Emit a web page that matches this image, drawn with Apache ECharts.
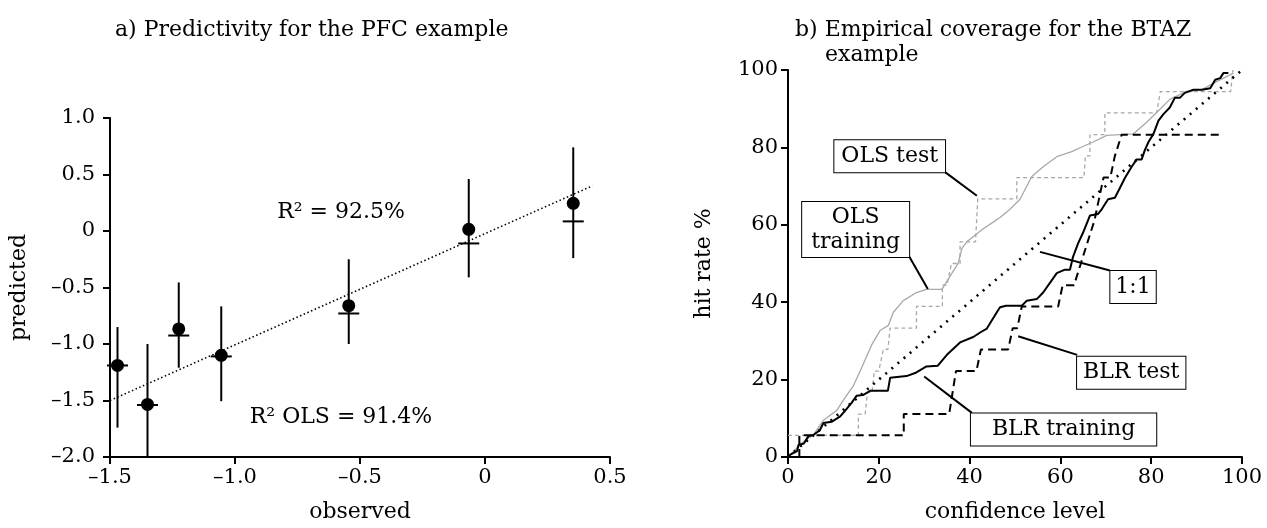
<!DOCTYPE html>
<html><head><meta charset="utf-8">
<script src="https://cdn.jsdelivr.net/npm/echarts@6/dist/echarts.min.js"></script>
<style>html,body{margin:0;padding:0;background:#fff}#c{width:1267px;height:528px}</style>
</head><body><div id="c"></div>
<script>
// ---- Panel a) data ----
const observed  = [-1.47, -1.35, -1.225, -1.055, -0.545, -0.065, 0.353];
const predicted = [-1.19, -1.535, -0.867, -1.10, -0.661, 0.015, 0.245];
const lowerBar  = [-1.74, -2.0, -1.21, -1.506, -1.0, -0.41, -0.24];
const upperBar  = [-0.85, -1.0, -0.455, -0.667, -0.25, 0.46, 0.74];
const olsPred   = [-1.19, -1.54, -0.925, -1.11, -0.73, -0.11, 0.085];
const fitLine   = [[-1.5, -1.5], [0.43, 0.40]];
const ticksA_x  = ['–1.5', '–1.0', '–0.5', '0', '0.5'];
const ticksA_y  = ['–2.0', '–1.5', '–1.0', '–0.5', '0', '0.5', '1.0'];
const notesA    = [{pos: [-0.576, 0.17], text: 'R\u00B2 = 92.5%'}, {pos: [-0.576, -1.645], text: 'R\u00B2 OLS = 91.4%'}];

// ---- Panel b) data (confidence level %, hit rate %) ----
const blrTraining = [[0,0],[0.5,0.6],[2,1.5],[2.3,3.1],[3.5,3.5],[4.5,5.4],[5.6,5.7],[7,6.9],[7.8,8.8],[9.6,9.1],[11.5,10.5],[12.6,12],[14,14],[15.1,15.8],[16.5,16],[18.1,17.1],[22,17.1],[22.5,20.5],[26.1,20.9],[28,21.7],[30.5,23.4],[33,23.6],[35,26.4],[37.9,29.6],[40.8,31],[42.5,32.3],[43.8,33.2],[46,37.4],[46.7,38.7],[48,39.1],[51.5,39.1],[52.6,40.4],[54.8,40.8],[56.2,42.5],[57.7,45],[59.2,47.5],[61,48.4],[62.1,48.4],[62.8,51.8],[63.9,55.2],[65,58],[66.5,62.4],[68.3,62.8],[69.1,64],[70.5,66.6],[72,67],[73.1,69.5],[74.2,72.1],[75.7,75],[76.8,76.9],[77.9,76.9],[78.6,79.3],[79.4,81.4],[80.5,83.5],[81.6,86.9],[82.7,88.6],[84.1,90.3],[85.2,92.8],[86.3,92.8],[87.4,94.1],[89.3,94.9],[91.2,94.9],[93,95.3],[94.1,97.5],[95.2,97.9],[95.9,99.2],[97,99.2]];
const blrTest = [[2.5,0],[2.5,5.6],[25.5,5.6],[25.5,11.1],[35.5,11.1],[37,22.2],[41.5,22.2],[42.5,27.8],[48.5,27.8],[49.5,33.3],[50.5,33.3],[51.5,38.9],[59.5,38.9],[60.5,44.4],[63,44.4],[64.5,50],[66,55.6],[67.5,61.1],[68.5,66.7],[69.5,72.2],[71,72.2],[72,77.8],[73.5,83.3],[95,83.3]];
const olsTraining = [[0,0],[2.6,3.1],[4,4.5],[5.6,5.7],[7.8,9.5],[10.7,12],[12.6,15.4],[14.4,18.4],[16.2,23],[18.4,28.9],[20.3,32.7],[22.1,34],[23.2,37.4],[25.4,40.4],[28.3,42.5],[30.5,43.3],[33.9,43.3],[35,45.4],[37.5,50.1],[38.3,53.9],[39.4,55.6],[41.6,57.7],[43,59],[45.2,60.7],[46.7,61.9],[48.9,64],[51.1,66.6],[53.7,72.5],[56.2,75],[59.2,77.6],[62.5,78.9],[64.7,80.1],[67.2,81.4],[70.2,83.1],[76.1,83.5],[79,86.5],[81.2,89],[84.1,92.4],[87.8,94.5],[91.1,94.9],[94.4,97],[98.1,99.2]];
const olsTest = [[0,5.6],[15.5,5.6],[15.5,11.1],[17,11.1],[17.5,16.7],[18.5,16.7],[19,22.2],[20,22.2],[21,27.8],[22,27.8],[22.5,33.3],[28.3,33.3],[28.3,38.9],[34,38.9],[34,44.4],[35,44.4],[36,50],[37.9,50],[37.9,55.6],[41.3,55.6],[41.8,66.7],[50.4,66.7],[50.4,72.2],[65.2,72.2],[65.5,77.8],[66.5,77.8],[66.5,83.3],[69.8,83.3],[69.8,88.9],[81.2,88.9],[82,94.4],[97.5,94.4],[98,100]];
const oneToOne = [[0,0],[104,104]];
const ticksB = ['0', '20', '40', '60', '80', '100'];
const labelsB = [
  {text: 'OLS test',        box: [22.4, 77.7], leader: [[34.6, 73.6], [41.6, 67.5]]},
  {text: 'OLS\ntraining',   box: [14.9, 58.8], leader: [[26.7, 51.8], [30.8, 43.4]]},
  {text: '1:1',             box: [76.0, 43.9], leader: [[70.9, 48.2], [55.5, 53.0]]},
  {text: 'BLR test',        box: [75.6, 21.8], leader: [[63.7, 26.4], [50.7, 31.2]]},
  {text: 'BLR training',    box: [60.7, 7.1],  leader: [[40.5, 11.4], [30.0, 20.8]]}
];
const boxPads = [[4, 7, 3, 7], [3, 9, 2, 9], [4, 5, 3, 5], [4, 6, 3, 6], [4, 21, 3, 21]];

const FONT = 'DejaVu Serif';
const FS_TICK = 21;
const FS = 22;
const chart = echarts.init(document.getElementById('c'), null, {renderer: 'canvas'});

function axisCommon(labels, min, interval, margin) {
  return {
    axisLine: {show: true, onZero: false, lineStyle: {color: '#000', width: 2}},
    axisTick: {show: true, length: 7, lineStyle: {color: '#000', width: 2}},
    splitLine: {show: false},
    axisLabel: {color: '#000', fontFamily: FONT, fontSize: FS_TICK, margin: margin,
      formatter: v => labels[Math.round((v - min) / interval)]},
    nameTextStyle: {color: '#000', fontFamily: FONT, fontSize: FS},
    nameLocation: 'middle'
  };
}
const titleStyle = {fontFamily: FONT, fontSize: FS, fontWeight: 'normal', color: '#000'};

const option = {
  backgroundColor: '#fff',
  animation: false,
  textStyle: {fontFamily: FONT},
  title: [
    {text: 'a) Predictivity for the PFC example', left: 110, top: 14, textStyle: titleStyle},
    {text: 'b) Empirical coverage for the BTAZ', left: 790, top: 14, textStyle: titleStyle},
    {text: 'example', left: 820, top: 39, textStyle: titleStyle}
  ],
  grid: [
    {left: 110, right: 657, top: 118, bottom: 65.5},
    {left: 788, right: 25, top: 70, bottom: 64}
  ],
  xAxis: [
    Object.assign(axisCommon(ticksA_x, -1.5, 0.5, 10), {gridIndex: 0, type: 'value', min: -1.5, max: 0.5, interval: 0.5, name: 'observed', nameGap: 44}),
    Object.assign(axisCommon(ticksB, 0, 20, 10), {gridIndex: 1, type: 'value', min: 0, max: 100, interval: 20, name: 'confidence level', nameGap: 44})
  ],
  yAxis: [
    Object.assign(axisCommon(ticksA_y, -2, 0.5, 15), {gridIndex: 0, type: 'value', min: -2, max: 1, interval: 0.5, name: 'predicted', nameGap: 80}),
    Object.assign(axisCommon(ticksB, 0, 20, 10), {gridIndex: 1, type: 'value', min: 0, max: 100, interval: 20, name: 'hit rate %', nameGap: 73})
  ],
  series: [
    // panel a
    {type: 'line', xAxisIndex: 0, yAxisIndex: 0, data: fitLine, symbol: 'none',
      lineStyle: {color: '#000', width: 1.6, type: [1.5, 2.5]}, z: 1},
    {type: 'custom', xAxisIndex: 0, yAxisIndex: 0,
      data: observed.map((x, i) => [x, lowerBar[i], upperBar[i], olsPred[i]]),
      renderItem: function (params, api) {
        const x = api.value(0);
        const pLo = api.coord([x, api.value(1)]);
        const pHi = api.coord([x, api.value(2)]);
        const pO = api.coord([x, api.value(3)]);
        return {type: 'group', children: [
          {type: 'line', shape: {x1: pLo[0], y1: pLo[1], x2: pHi[0], y2: pHi[1]}, style: {stroke: '#000', lineWidth: 2}},
          {type: 'line', shape: {x1: pO[0] - 10.5, y1: pO[1], x2: pO[0] + 10.5, y2: pO[1]}, style: {stroke: '#000', lineWidth: 2}}
        ]};
      }, z: 2},
    {type: 'scatter', xAxisIndex: 0, yAxisIndex: 0, data: observed.map((x, i) => [x, predicted[i]]),
      symbol: 'circle', symbolSize: 13, itemStyle: {color: '#000', opacity: 1}, z: 3},
    {type: 'scatter', xAxisIndex: 0, yAxisIndex: 0, symbolSize: 0, itemStyle: {opacity: 1},
      data: notesA.map(n => ({value: n.pos, name: n.text})),
      label: {show: true, position: 'inside', formatter: '{b}', color: '#000', fontFamily: FONT, fontSize: FS}, z: 4},
    // panel b
    {type: 'line', xAxisIndex: 1, yAxisIndex: 1, data: olsTraining, symbol: 'none',
      lineStyle: {color: '#a8a8a8', width: 1.3}, z: 1},
    {type: 'line', xAxisIndex: 1, yAxisIndex: 1, data: olsTest, symbol: 'none',
      lineStyle: {color: '#a8a8a8', width: 1.3, type: [4, 3]}, z: 1},
    {type: 'line', xAxisIndex: 1, yAxisIndex: 1, data: oneToOne, symbol: 'none', clip: false,
      lineStyle: {color: '#000', width: 2.6, type: [2, 6]}, z: 2},
    {type: 'line', xAxisIndex: 1, yAxisIndex: 1, data: blrTest, symbol: 'none',
      lineStyle: {color: '#000', width: 2, type: [8, 5]}, z: 3},
    {type: 'line', xAxisIndex: 1, yAxisIndex: 1, data: blrTraining, symbol: 'none',
      lineStyle: {color: '#000', width: 2}, z: 3},
    {type: 'lines', coordinateSystem: 'cartesian2d', xAxisIndex: 1, yAxisIndex: 1,
      data: labelsB.map(l => ({coords: l.leader})),
      lineStyle: {color: '#000', width: 2, opacity: 1}, z: 4},
    {type: 'scatter', xAxisIndex: 1, yAxisIndex: 1, symbolSize: 0, itemStyle: {opacity: 1},
      data: labelsB.map((l, i) => ({value: l.box, name: l.text, label: {padding: boxPads[i]}})),
      label: {show: true, position: 'inside', formatter: '{b}', color: '#000', fontFamily: FONT, fontSize: FS,
        lineHeight: 25, backgroundColor: '#fff', borderColor: '#000', borderWidth: 1, align: 'center'},
      z: 5}
  ]
};
chart.setOption(option);
</script></body></html>
